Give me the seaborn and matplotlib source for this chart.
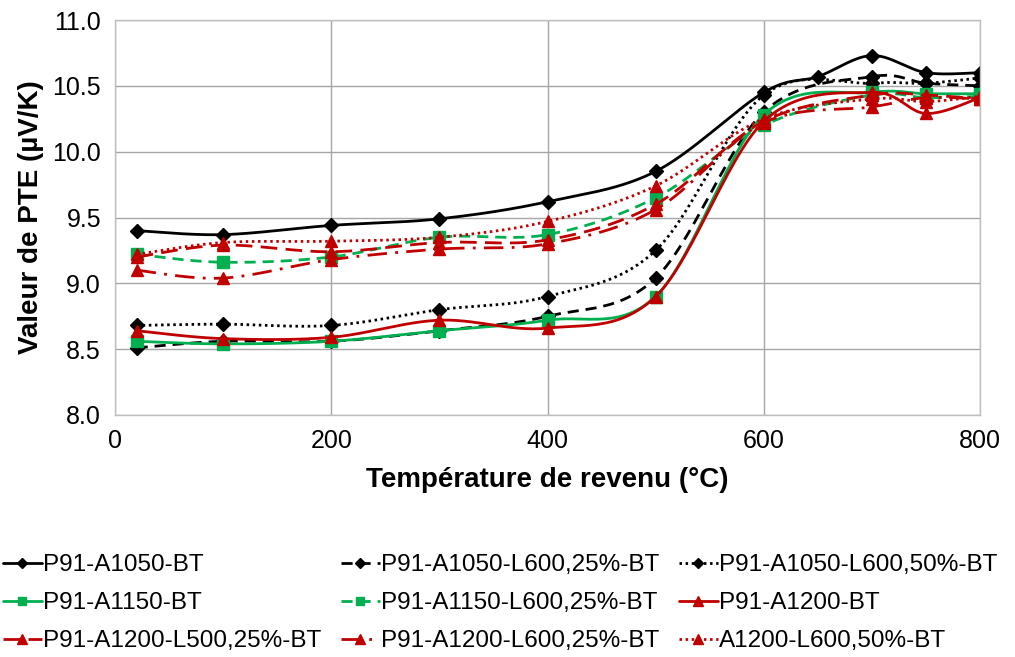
import numpy as np
import pandas as pd
import matplotlib
matplotlib.use("Agg")
import matplotlib.pyplot as plt
from matplotlib.lines import Line2D
import seaborn as sns

# Data
temp = [20, 100, 200, 300, 400, 500, 600, 700, 750, 800]
temp_a1050 = [20, 100, 200, 300, 400, 500, 600, 650, 700, 750, 800]

a1050_bt = [9.40, 9.37, 9.44, 9.49, 9.62, 9.85, 10.45, 10.57, 10.73, 10.60, 10.60]
a1050_l600_25 = [8.51, 8.56, 8.56, 8.64, 8.75, 9.04, 10.30, 10.57, 10.52, 10.50]
a1050_l600_50 = [8.68, 8.69, 8.68, 8.80, 8.90, 9.25, 10.43, 10.52, 10.52, 10.56]
a1150_bt = [8.56, 8.54, 8.56, 8.64, 8.72, 8.90, 10.28, 10.45, 10.44, 10.44]
a1150_l600_25 = [9.22, 9.16, 9.20, 9.35, 9.37, 9.65, 10.20, 10.43, 10.41, 10.42]
a1200_bt = [8.64, 8.58, 8.59, 8.72, 8.66, 8.90, 10.23, 10.45, 10.29, 10.41]
a1200_l500_25 = [9.20, 9.29, 9.24, 9.31, 9.33, 9.60, 10.23, 10.43, 10.43, 10.40]
a1200_l600_25 = [9.10, 9.04, 9.18, 9.26, 9.30, 9.56, 10.22, 10.34, 10.41, 10.40]
a1200_l600_50 = [9.22, 9.31, 9.32, 9.35, 9.47, 9.74, 10.25, 10.40, 10.38, 10.42]

labels = ["P91-A1050-BT", "P91-A1050-L600,25%-BT", "P91-A1050-L600,50%-BT",
          "P91-A1150-BT", "P91-A1150-L600,25%-BT", "P91-A1200-BT",
          "P91-A1200-L500,25%-BT", "P91-A1200-L600,25%-BT", "A1200-L600,50%-BT"]

BLACK, GREEN, RED = "#000000", "#00B050", "#C00000"
solid, dashed, dotted = "-", (0, (4, 2.5)), (0, (0.9, 1.3))
longdash, dashdot = (0, (6, 3)), (0, (7, 3, 1, 3))

series = [
    (temp_a1050, a1050_bt, BLACK, solid, "D", 7),
    (temp, a1050_l600_25, BLACK, dashed, "D", 7),
    (temp, a1050_l600_50, BLACK, dotted, "D", 7),
    (temp, a1150_bt, GREEN, solid, "s", 8),
    (temp, a1150_l600_25, GREEN, dashed, "s", 8),
    (temp, a1200_bt, RED, solid, "^", 9),
    (temp, a1200_l500_25, RED, longdash, "^", 9),
    (temp, a1200_l600_25, RED, dashdot, "^", 9),
    (temp, a1200_l600_50, RED, dotted, "^", 9),
]


# Excel-like smoothed line (cubic Bezier through the points)
def smooth(x, y, n=30):
    p = np.column_stack([x, y]).astype(float)
    out = [p[0]]
    t = np.linspace(0, 1, n + 1)[1:, None]
    for i in range(len(p) - 1):
        p0 = p[i - 1] if i > 0 else p[i]
        p3 = p[i + 2] if i + 2 < len(p) else p[i + 1]
        c1 = p[i] + (p[i + 1] - p0) / 6
        c2 = p[i + 1] - (p3 - p[i]) / 6
        seg = (1 - t) ** 3 * p[i] + 3 * (1 - t) ** 2 * t * c1 + 3 * (1 - t) * t ** 2 * c2 + t ** 3 * p[i + 1]
        out.extend(seg)
    out = np.array(out)
    return out[:, 0], out[:, 1]


sns.set_theme(style="white")
plt.rcParams["font.family"] = ["Liberation Sans", "DejaVu Sans"]
plt.rcParams["text.color"] = "black"
plt.rcParams["axes.labelcolor"] = "black"
plt.rcParams["xtick.color"] = "black"
plt.rcParams["ytick.color"] = "black"

fig = plt.figure(figsize=(10.15, 6.57), dpi=100)
ax = fig.add_axes([115 / 1015, 1 - 415 / 657, 865 / 1015, 395 / 657])

handles = []
for x, y, color, ls, mk, ms in series:
    sx, sy = smooth(x, y)
    sns.lineplot(x=sx, y=sy, sort=False, estimator=None, color=color, linestyle=ls,
                 linewidth=2.0, ax=ax, legend=False)
    ax.plot(x, y, linestyle="none", marker=mk, markersize=ms, color=color,
            markeredgecolor=color)
    handles.append(Line2D([0], [0], color=color, linestyle=ls, linewidth=2.0,
                          marker=mk, markersize=ms * 0.75, markeredgecolor=color))

ax.set_xlim(0, 800)
ax.set_ylim(8.0, 11.0)
ax.set_xticks([0, 200, 400, 600, 800])
ax.set_yticks(np.arange(8.0, 11.01, 0.5))
ax.yaxis.set_major_formatter(matplotlib.ticker.FormatStrFormatter("%.1f"))
ax.grid(True, color="#A6A6A6", linewidth=1.0)
for s in ax.spines.values():
    s.set_color("#BFBFBF")
    s.set_linewidth(1.0)
ax.tick_params(labelsize=18, length=0, pad=10)
ax.set_xlabel("Température de revenu (°C)", fontsize=20, fontweight="bold", labelpad=10)
ax.set_ylabel("Valeur de PTE (µV/K)", fontsize=20, fontweight="bold", labelpad=6)

# legend filled row by row like the reference
order = [0, 3, 6, 1, 4, 7, 2, 5, 8]
fig.legend([handles[i] for i in order], [labels[i] for i in order], ncol=3,
           loc="upper left", bbox_to_anchor=(0.003, 1 - 554 / 657), frameon=False,
           fontsize=17.5, handlelength=1.6, handletextpad=0.05, columnspacing=0.8,
           labelspacing=0.66, borderaxespad=0.0, borderpad=0.0)

fig.savefig("out.png", dpi=100)
